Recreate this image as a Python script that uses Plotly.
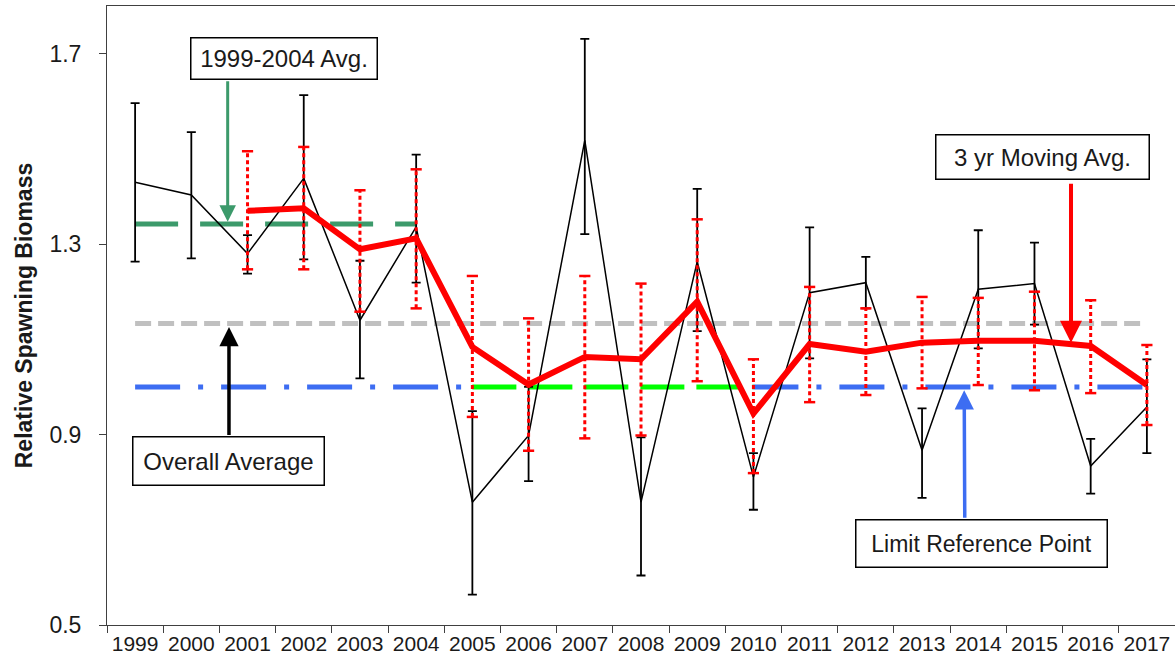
import plotly.graph_objects as go

# ---------------- data ----------------
years = ["1999", "2000", "2001", "2002", "2003", "2004", "2005", "2006", "2007",
         "2008", "2009", "2010", "2011", "2012", "2013", "2014", "2015", "2016", "2017"]

annual = [1.430, 1.403, 1.280, 1.438, 1.140, 1.336, 0.758, 0.898, 1.518, 0.758,
          1.263, 0.811, 1.198, 1.219, 0.867, 1.205, 1.217, 0.834, 0.958]
annual_upper = [1.596, 1.535, 1.319, 1.613, 1.265, 1.488, 0.949, 1.000, 1.731, 0.894,
                1.416, 0.861, 1.335, 1.273, 0.955, 1.329, 1.303, 0.891, 1.058]
annual_lower = [1.263, 1.270, 1.238, 1.268, 1.018, 1.219, 0.564, 0.802, 1.321, 0.604,
                1.117, 0.742, 1.060, 1.165, 0.767, 1.081, 1.131, 0.776, 0.861]

ma_years = ["2001", "2002", "2003", "2004", "2005", "2006", "2007", "2008", "2009",
            "2010", "2011", "2012", "2013", "2014", "2015", "2016", "2017"]
moving_avg = [1.370, 1.375, 1.289, 1.312, 1.084, 1.005, 1.063, 1.058, 1.179,
              0.944, 1.090, 1.074, 1.093, 1.097, 1.097, 1.086, 1.004]
moving_avg_upper = [1.495, 1.504, 1.413, 1.457, 1.233, 1.144, 1.233, 1.217, 1.352,
                    1.058, 1.210, 1.165, 1.189, 1.187, 1.200, 1.182, 1.088]
moving_avg_lower = [1.247, 1.247, 1.158, 1.165, 0.937, 0.866, 0.892, 0.898, 1.012,
                    0.819, 0.968, 0.983, 0.997, 1.004, 0.993, 0.987, 0.920]

avg_1999_2004 = 1.342
overall_avg = 1.133
limit_ref = 1.0

y_ticks = [0.5, 0.9, 1.3, 1.7]
y_ticktext = ["0.5", "0.9", "1.3", "1.7"]

FONT = "Liberation Sans, Arial, sans-serif"
TXT = "#1a1a1a"
AX = "#404040"

fig = go.Figure()

# ---------------- reference lines ----------------
fig.add_trace(go.Scatter(x=[years[0], years[-1]], y=[overall_avg, overall_avg], mode="lines",
                         line=dict(color="#c0c0c0", width=5, dash="16px,7px"), hoverinfo="skip"))
fig.add_trace(go.Scatter(x=["1999", "2005"], y=[limit_ref, limit_ref], mode="lines",
                         line=dict(color="#3d6df2", width=5, dash="45px,18px,5px,18px"), hoverinfo="skip"))
fig.add_trace(go.Scatter(x=["2010", "2017"], y=[limit_ref, limit_ref], mode="lines",
                         line=dict(color="#3d6df2", width=5, dash="45px,18px,5px,18px"), hoverinfo="skip"))
fig.add_trace(go.Scatter(x=["2005", "2010"], y=[limit_ref, limit_ref], mode="lines",
                         line=dict(color="#00ff00", width=5, dash="44px,12px"), hoverinfo="skip"))
fig.add_trace(go.Scatter(x=["1999", "2004"], y=[avg_1999_2004, avg_1999_2004], mode="lines",
                         line=dict(color="#3c9a6b", width=5, dash="43px,22px"), hoverinfo="skip"))

# ---------------- annual estimates ----------------
err_plus = [u - v for u, v in zip(annual_upper, annual)]
err_minus = [v - l for v, l in zip(annual, annual_lower)]
fig.add_trace(go.Scatter(x=years, y=annual, mode="lines",
                         line=dict(color="black", width=1.5),
                         error_y=dict(type="data", symmetric=False, array=err_plus,
                                      arrayminus=err_minus, color="black",
                                      thickness=1.8, width=4.5)))

# ---------------- moving-average dotted error bars ----------------
bx, by = [], []
for yr, lo, hi in zip(ma_years, moving_avg_lower, moving_avg_upper):
    bx += [yr, yr, None]
    by += [lo, hi, None]
fig.add_trace(go.Scatter(x=bx, y=by, mode="lines", connectgaps=False,
                         line=dict(color="#ff0000", width=3, dash="4px,3px"), hoverinfo="skip"))
fig.add_trace(go.Scatter(x=ma_years + ma_years, y=moving_avg_lower + moving_avg_upper,
                         mode="markers",
                         marker=dict(symbol="line-ew", size=8,
                                     line=dict(color="#ff0000", width=2.5)),
                         hoverinfo="skip"))

# ---------------- moving average ----------------
fig.add_trace(go.Scatter(x=ma_years, y=moving_avg, mode="lines",
                         line=dict(color="#ff0000", width=6)))

# ---------------- annotations ----------------
def box(text, x, y, w, h, size=24):
    return dict(text=text, x=x, y=y, xref="x", yref="y", showarrow=False,
                font=dict(family=FONT, size=size, color=TXT),
                bgcolor="white", bordercolor="black", borderwidth=1.5, borderpad=0,
                width=w, height=h, align="center", valign="middle",
                xanchor="center", yanchor="middle")

def arrow(x, y, ax, ay, color, width):
    return dict(text="", x=x, y=y, ax=ax, ay=ay, xref="x", yref="y",
                axref="x", ayref="y", showarrow=True, arrowhead=2,
                arrowsize=1.1, arrowwidth=width, arrowcolor=color, standoff=0)

annotations = [
    arrow(1.647, 1.347, 1.647, 1.645, "#3c9a6b", 3),
    arrow(16.65, 1.093, 16.65, 1.430, "#ff0000", 4),
    arrow(1.67, 1.126, 1.67, 0.896, "black", 3.5),
    arrow(14.75, 0.993, 14.76, 0.722, "#3d6df2", 3.5),
    box("1999-2004 Avg.", 2.64, 1.689, 185, 40),
    box("3 yr Moving Avg.", 16.15, 1.483, 212, 43),
    box("Overall Average", 1.658, 0.845, 190, 47),
    box("Limit Reference Point", 15.06, 0.672, 250, 46, size=23),
]

fig.update_layout(
    width=1175, height=667,
    margin=dict(l=107, r=0, t=6, b=42, autoexpand=False),
    paper_bgcolor="white", plot_bgcolor="white",
    showlegend=False,
    font=dict(family=FONT, color=TXT),
    annotations=annotations,
    xaxis=dict(type="category", categoryorder="array", categoryarray=years,
               range=[-0.5, 18.5], showline=True, linecolor=AX, linewidth=1,
               mirror=True, ticks="outside", tickson="boundaries", ticklen=7,
               tickcolor=AX, tickwidth=1, showgrid=False, zeroline=False,
               tickangle=0, automargin=False,
               tickfont=dict(family=FONT, size=21, color=TXT)),
    yaxis=dict(range=[0.5, 1.8], tickvals=y_ticks, ticktext=y_ticktext,
               showline=True, linecolor=AX, linewidth=1, mirror=False,
               ticks="outside", ticklen=7, tickcolor=AX, tickwidth=1,
               showgrid=False, zeroline=False, ticklabelstandoff=13,
               automargin=False,
               tickfont=dict(family=FONT, size=23, color=TXT)),
    yaxis_title=dict(text="<b>Relative Spawning Biomass</b>", standoff=10,
                     font=dict(family=FONT, size=23, color=TXT)),
)

fig.write_html("out.html")
